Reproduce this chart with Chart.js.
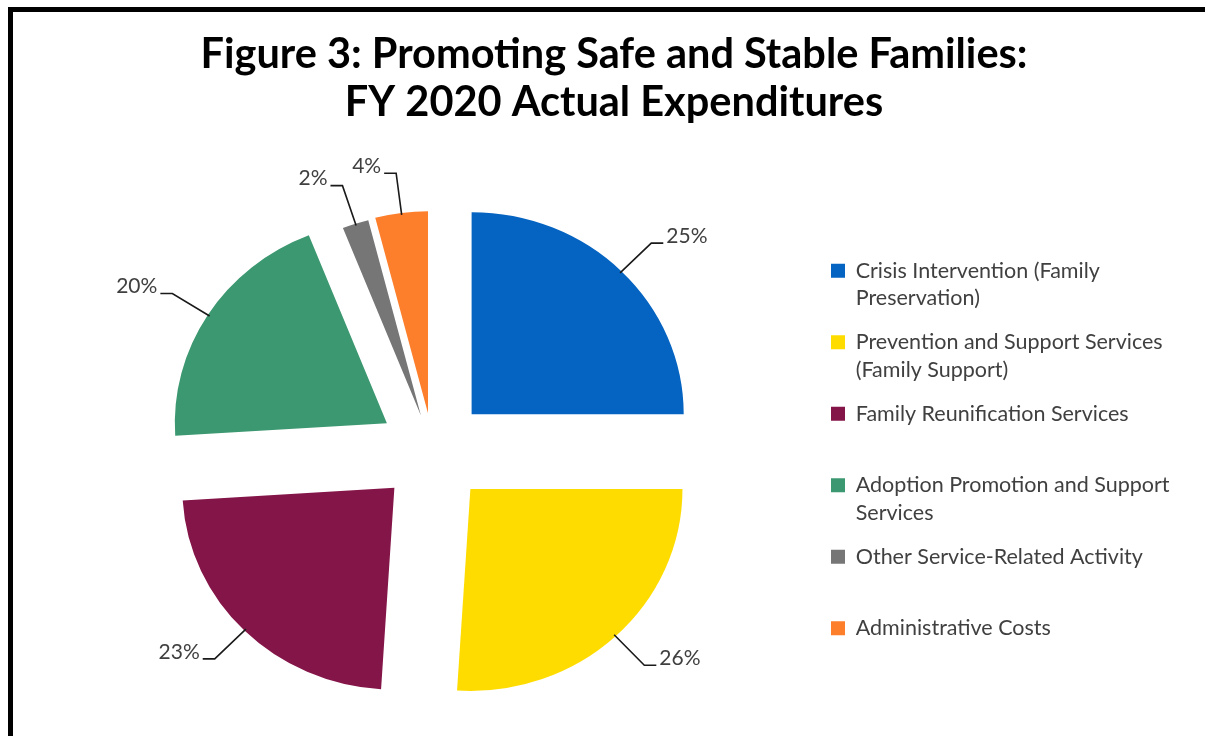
<!DOCTYPE html>
<html>
<head>
<meta charset="utf-8">
<script src="https://cdn.jsdelivr.net/npm/chart.js@4.4.1/dist/chart.umd.min.js"></script>
<style>
    html, body { margin: 0; padding: 0; background: #fff; overflow: hidden; }
    #wrap { position: absolute; left: 0; top: 0; width: 1205px; height: 736px; }
    #frame {
        position: absolute; left: 8px; top: 7px; width: 1300px; height: 800px;
        border-left: 5px solid #000; border-top: 5px solid #000; pointer-events: none;
    }
</style>
</head>
<body>
<div id="wrap"><canvas id="expChart"></canvas></div>
<div id="frame"></div>
<script>
// data
const categories = [
    ['Crisis Intervention (Family', 'Preservation)'],
    ['Prevention and Support Services', '(Family Support)'],
    ['Family Reunification Services'],
    ['Adoption Promotion and Support', 'Services'],
    ['Other Service-Related Activity'],
    ['Administrative Costs']
];
const shares = [25, 26, 23, 20, 2, 4];
const sliceColors = ['#0563C1', '#FFDC00', '#841548', '#3C9870', '#767676', '#FD7F2C'];

const FONT = 'Lato, "Open Sans", sans-serif';
const STRETCH_X = 1.05;   // the picture is a bit wider than tall

// pull the slices apart (like Excel point explosion)
const explodePlugin = {
    id: 'explode',
    afterDatasetsUpdate(chart, args, opts) {
        const meta = chart.getDatasetMeta(0);
        meta.data.forEach((arc, i) => {
            const mid = (arc.startAngle + arc.endAngle) / 2;
            const d = opts.distance[i] || 0;
            arc.x += Math.cos(mid) * d;
            arc.y += Math.sin(mid) * d;
        });
    },
    beforeDatasetsDraw(chart) {
        const ctx = chart.ctx;
        const cx = (chart.chartArea.left + chart.chartArea.right) / 2;
        ctx.save();
        ctx.translate(cx, 0);
        ctx.scale(STRETCH_X, 1);
        ctx.translate(-cx, 0);
    },
    afterDatasetsDraw(chart) {
        const ctx = chart.ctx;
        ctx.restore();

        // percent labels with leader lines
        const cx = (chart.chartArea.left + chart.chartArea.right) / 2;
        const sx = (x) => cx + (x - cx) * STRETCH_X;
        const meta = chart.getDatasetMeta(0);
        ctx.save();
        ctx.strokeStyle = '#1a1a1a';
        ctx.lineWidth = 1.6;
        ctx.fillStyle = '#404040';
        ctx.font = '21px ' + FONT;
        ctx.textBaseline = 'middle';
        meta.data.forEach((arc, i) => {
            const a = (arc.startAngle + arc.endAngle) / 2;
            const r = arc.outerRadius;
            const x0 = sx(arc.x + Math.cos(a) * (r - 2));
            const y0 = arc.y + Math.sin(a) * (r - 2);
            const x1 = sx(arc.x + Math.cos(a) * (r + 40));
            const y1 = arc.y + Math.sin(a) * (r + 40);
            const dir = Math.cos(a) >= 0 ? 1 : -1;
            const x2 = x1 + dir * 12;
            ctx.beginPath();
            ctx.moveTo(x0, y0);
            ctx.lineTo(x1, y1);
            ctx.lineTo(x2, y1);
            ctx.stroke();
            ctx.textAlign = dir > 0 ? 'left' : 'right';
            ctx.fillText(shares[i] + '%', x2 + dir * 3, y1 - 7);
        });
        ctx.restore();
    }
};

const baseLabels = Chart.overrides.doughnut.plugins.legend.labels.generateLabels;

new Chart(document.getElementById('expChart'), {
    type: 'pie',
    data: {
        labels: categories,
        datasets: [{
            data: shares,
            backgroundColor: sliceColors,
            borderWidth: 0,
            clip: false
        }]
    },
    options: {
        responsive: true,
        maintainAspectRatio: false,
        animation: false,
        events: [],
        radius: 202,
        layout: { padding: { left: 51.5, right: 28.5, top: 0, bottom: 0 } },
        plugins: {
            title: {
                display: true,
                text: ['Figure 3: Promoting Safe and Stable Families:', 'FY 2020 Actual Expenditures'],
                color: '#000',
                font: { family: FONT, size: 41.5, weight: 'bold', lineHeight: '48px' },
                padding: { top: 31, bottom: 39 }
            },
            legend: {
                position: 'right',
                align: 'start',
                fullSize: false,
                maxWidth: 362,
                title: { display: true, text: ' ', font: { size: 12, lineHeight: '17.5px' }, padding: 30 },
                labels: {
                    color: '#404040',
                    font: { family: FONT, size: 21.5, lineHeight: '27.5px' },
                    boxWidth: 14,
                    boxHeight: 14,
                    padding: 16.5,
                    generateLabels(chart) {
                        // every entry takes two lines, like the Excel legend slots
                        return baseLabels(chart).map((item) => {
                            const lines = [].concat(item.text);
                            while (lines.length < 2) lines.push('');
                            item.text = lines;
                            return item;
                        });
                    }
                }
            },
            tooltip: { enabled: false },
            explode: { distance: [52, 52, 52, 52, 37, 38] }
        }
    },
    plugins: [explodePlugin]
});
</script>
</body>
</html>
